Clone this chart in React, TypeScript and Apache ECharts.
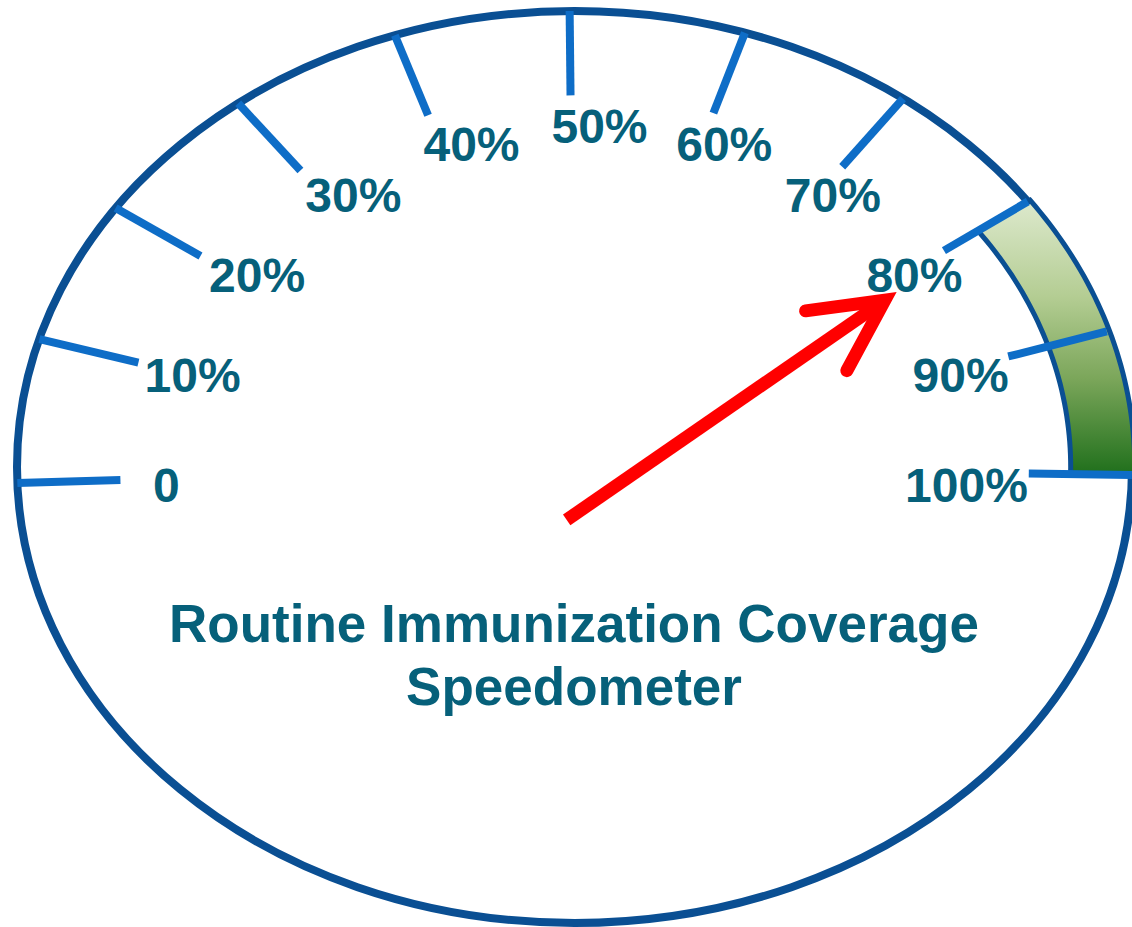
import React, { useEffect, useRef } from "react";
import * as echarts from "echarts";

// ---- data ----
const TICK_VALUES = [0, 10, 20, 30, 40, 50, 60, 70, 80, 90, 100];
const TICK_LABELS = ["0", "10%", "20%", "30%", "40%", "50%", "60%", "70%", "80%", "90%", "100%"];
const BAND_RANGE = [80, 100];
const NEEDLE_VALUE = 80;
const TITLE_LINES = ["Routine Immunization Coverage", "Speedometer"];

// ---- layout / style constants ----
const ANGLE_START = 182; // parametric angle on the ellipse for value 0
const ANGLE_END = -1; // for value 100
const LABEL_ANGLE_START = 182;
const LABEL_ANGLE_END = -2;
const LABEL_RX = 0.718;
const LABEL_RY = 0.759;
const LABEL_SHIFT = 32; // px, labels near the top sit a little to the right
const LABEL_DX = -7; // px
const LABEL_DY = 6; // px
const TICK_INNER = 0.815;
const BAND_INNER = 0.89;
const BAND_OUTER = 1.005;
const NEEDLE_BASE = [-0.014, -0.116];
const NEEDLE_FRACTION = 0.69;

const OUTLINE = "#0a4f93";
const TICK_COLOR = "#0e6dc7";
const TEXT_COLOR = "#06607a";
const FONT_FAMILY = '"Liberation Sans", Arial, sans-serif';

const toRad = (d: number) => (d * Math.PI) / 180;
const angleOf = (v: number, start = ANGLE_START, end = ANGLE_END) =>
  toRad(start + ((end - start) * v) / 100);
const ptAt = (v: number, r: number) => {
  const t = angleOf(v);
  return [r * Math.cos(t), r * Math.sin(t)];
};

export default function App() {
  const ref = useRef<HTMLDivElement>(null);

  useEffect(() => {
    if (!ref.current) return;
    const chart = echarts.init(ref.current, undefined, { renderer: "svg" });

    const option: any = {
      animation: false,
      backgroundColor: "#ffffff",
      grid: { left: 17, right: -1, top: 11, bottom: 4, containLabel: false },
      xAxis: { type: "value", min: -1, max: 1, show: false },
      yAxis: { type: "value", min: -1, max: 1, show: false },
      graphic: [
        {
          type: "text",
          x: 574,
          y: 655,
          z: 10,
          style: {
            text: TITLE_LINES.join("\n"),
            align: "center",
            verticalAlign: "middle",
            lineHeight: 63,
            fill: TEXT_COLOR,
            font: `bold 53px ${FONT_FAMILY}`,
          },
        },
      ],
      series: [
        // ellipse outline
        {
          type: "custom",
          coordinateSystem: "cartesian2d",
          data: [[0, 0]],
          renderItem: (params: any, api: any) => {
            const c = api.coord([0, 0]);
            const s = api.size([1, 1]);
            return {
              type: "ellipse",
              shape: { cx: c[0], cy: c[1], rx: s[0], ry: s[1] },
              style: { fill: "none", stroke: OUTLINE, lineWidth: 8 },
            };
          },
        },
        // green band
        {
          type: "custom",
          coordinateSystem: "cartesian2d",
          data: [BAND_RANGE],
          renderItem: (params: any, api: any) => {
            const a = api.value(0);
            const b = api.value(1);
            const pts: number[][] = [];
            const n = 40;
            for (let i = 0; i <= n; i++) {
              const v = a + ((b - a) * i) / n;
              pts.push(api.coord(ptAt(v, BAND_OUTER)));
            }
            for (let i = n; i >= 0; i--) {
              const v = a + ((b - a) * i) / n;
              pts.push(api.coord(ptAt(v, BAND_INNER)));
            }
            return {
              type: "polygon",
              shape: { points: pts },
              style: {
                fill: new echarts.graphic.LinearGradient(0, 0, 0, 1, [
                  { offset: 0, color: "#dde9cd" },
                  { offset: 0.35, color: "#b4cd93" },
                  { offset: 0.65, color: "#7ba65a" },
                  { offset: 1, color: "#1f6f1b" },
                ]),
                stroke: OUTLINE,
                lineWidth: 5,
                lineJoin: "miter",
              },
            };
          },
        },
        // ticks
        {
          type: "custom",
          coordinateSystem: "cartesian2d",
          data: TICK_VALUES.map((v) => [v]),
          renderItem: (params: any, api: any) => {
            const v = api.value(0);
            const p1 = api.coord(ptAt(v, 1));
            const p2 = api.coord(ptAt(v, TICK_INNER));
            return {
              type: "line",
              shape: { x1: p1[0], y1: p1[1], x2: p2[0], y2: p2[1] },
              style: { stroke: TICK_COLOR, lineWidth: 8, lineCap: "butt" },
            };
          },
        },
        // tick labels
        {
          type: "custom",
          coordinateSystem: "cartesian2d",
          data: TICK_VALUES.map((v) => [v]),
          renderItem: (params: any, api: any) => {
            const v = api.value(0);
            const t = angleOf(v, LABEL_ANGLE_START, LABEL_ANGLE_END);
            const p = api.coord([LABEL_RX * Math.cos(t), LABEL_RY * Math.sin(t)]);
            return {
              type: "text",
              x: p[0] + LABEL_DX + LABEL_SHIFT * Math.sin(t),
              y: p[1] + LABEL_DY,
              style: {
                text: TICK_LABELS[params.dataIndex],
                align: "center",
                verticalAlign: "middle",
                fill: TEXT_COLOR,
                font: `bold 48px ${FONT_FAMILY}`,
              },
            };
          },
        },
        // needle
        {
          type: "custom",
          coordinateSystem: "cartesian2d",
          data: [[NEEDLE_VALUE]],
          renderItem: (params: any, api: any) => {
            const v = api.value(0);
            const base = api.coord(NEEDLE_BASE);
            const target = api.coord(ptAt(v, 1));
            const tip = [
              base[0] + (target[0] - base[0]) * NEEDLE_FRACTION,
              base[1] + (target[1] - base[1]) * NEEDLE_FRACTION,
            ];
            const dx = tip[0] - base[0];
            const dy = tip[1] - base[1];
            const len = Math.hypot(dx, dy);
            const bx = -dx / len;
            const by = -dy / len;
            const arm = 80;
            const rot = (th: number) => [
              tip[0] + arm * (bx * Math.cos(th) - by * Math.sin(th)),
              tip[1] + arm * (bx * Math.sin(th) + by * Math.cos(th)),
            ];
            const a1 = rot(toRad(27));
            const a2 = rot(toRad(-27));
            const red = "#ff0000";
            return {
              type: "group",
              children: [
                {
                  type: "line",
                  shape: { x1: base[0], y1: base[1], x2: tip[0], y2: tip[1] },
                  style: { stroke: red, lineWidth: 13, lineCap: "butt" },
                },
                {
                  type: "polyline",
                  shape: { points: [a1, tip, a2] },
                  style: { stroke: red, lineWidth: 13, lineCap: "round", lineJoin: "miter", fill: "none" },
                },
              ],
            };
          },
        },
      ],
    };

    chart.setOption(option);
    return () => chart.dispose();
  }, []);

  return (
    <div
      ref={ref}
      style={{ position: "absolute", left: 0, top: 0, width: 1132, height: 927, overflow: "hidden" }}
    />
  );
}
